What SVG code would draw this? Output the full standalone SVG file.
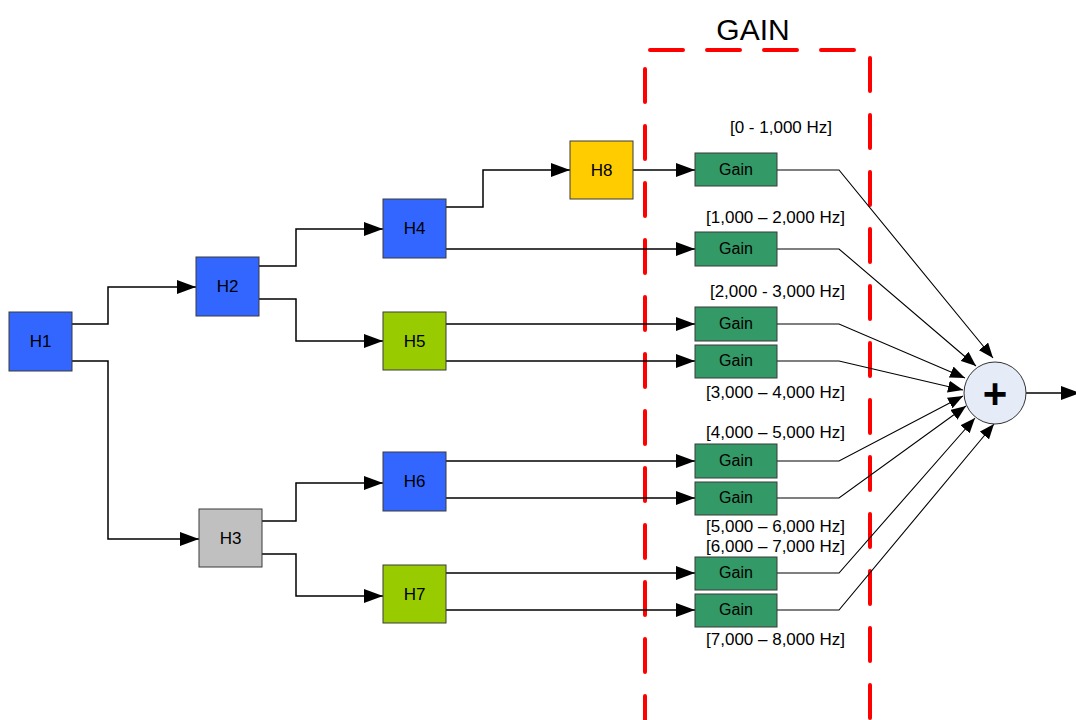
<svg xmlns="http://www.w3.org/2000/svg" width="1076" height="720" viewBox="0 0 1076 720">
  <style>
    .lbl { font-family: "Liberation Sans", Arial, sans-serif; fill: #000; }
    .box { stroke: #3a3a3a; stroke-width: 1; }
    .blue { fill: #3366FF; }
    .lime { fill: #99CC00; }
    .gold { fill: #FFCC00; }
    .grey { fill: #C0C0C0; }
    .gain { fill: #339966; }
    .wire { fill: none; stroke: #000; stroke-width: 1.5; }
    .thin { fill: none; stroke: #000; stroke-width: 1.1; }
    .dash { fill: none; stroke: #FF0000; stroke-width: 4; stroke-linecap: round; stroke-dasharray: 33 24; }
  </style>
  <defs>
    <marker id="arrow" markerUnits="userSpaceOnUse" markerWidth="20" markerHeight="14" refX="19" refY="7" orient="auto">
      <path d="M0,0 L19,7 L0,14 Z" fill="#000"/>
    </marker>
    <marker id="arrowSm" markerUnits="userSpaceOnUse" markerWidth="16" markerHeight="12" refX="15" refY="6" orient="auto">
      <path d="M0,0 L15,6 L0,12 Z" fill="#000"/>
    </marker>
  </defs>

  <rect width="1076" height="720" fill="#fff"/>

  <!-- GAIN stage boundary -->
  <g id="gain-region">
    <line class="dash" x1="650" y1="50" x2="860" y2="50"/>
    <line class="dash" x1="645" y1="69" x2="645" y2="720"/>
    <line class="dash" x1="870" y1="58" x2="870" y2="720"/>
    <line class="dash" x1="650" y1="722.5" x2="860" y2="722.5"/>
    <text class="lbl" x="753" y="40" font-size="30" text-anchor="middle">GAIN</text>
  </g>

  <!-- connectors -->
  <g id="connectors">
    <polyline class="wire" points="72,324 108,324 108,287 196,287" marker-end="url(#arrow)"/>
    <polyline class="wire" points="72,361 108,361 108,539 199,539" marker-end="url(#arrow)"/>
    <polyline class="wire" points="259,266 296,266 296,229 383,229" marker-end="url(#arrow)"/>
    <polyline class="wire" points="259,299 296,299 296,341 383,341" marker-end="url(#arrow)"/>
    <polyline class="wire" points="446,207 483,207 483,170 570,170" marker-end="url(#arrow)"/>
    <polyline class="wire" points="257,521 296,521 296,483 383,483" marker-end="url(#arrow)"/>
    <polyline class="wire" points="257,554 296,554 296,596 383,596" marker-end="url(#arrow)"/>

    <line class="wire" x1="633" y1="170" x2="695" y2="170" marker-end="url(#arrow)"/>
    <line class="wire" x1="446" y1="249" x2="695" y2="249" marker-end="url(#arrow)"/>
    <line class="wire" x1="446" y1="324" x2="695" y2="324" marker-end="url(#arrow)"/>
    <line class="wire" x1="446" y1="361" x2="695" y2="361" marker-end="url(#arrow)"/>
    <line class="wire" x1="446" y1="461" x2="695" y2="461" marker-end="url(#arrow)"/>
    <line class="wire" x1="446" y1="498" x2="695" y2="498" marker-end="url(#arrow)"/>
    <line class="wire" x1="446" y1="573" x2="695" y2="573" marker-end="url(#arrow)"/>
    <line class="wire" x1="446" y1="610" x2="695" y2="610" marker-end="url(#arrow)"/>

    <polyline class="thin" points="777,170 839,170 993,358" marker-end="url(#arrowSm)"/>
    <polyline class="thin" points="777,249 839,249 976,366" marker-end="url(#arrowSm)"/>
    <polyline class="thin" points="777,324 839,324 965,378" marker-end="url(#arrowSm)"/>
    <polyline class="thin" points="777,361 839,361 963,390" marker-end="url(#arrowSm)"/>
    <polyline class="thin" points="777,461 839,461 963,396" marker-end="url(#arrowSm)"/>
    <polyline class="thin" points="777,498 839,498 966,406" marker-end="url(#arrowSm)"/>
    <polyline class="thin" points="777,573 839,573 975,418" marker-end="url(#arrowSm)"/>
    <polyline class="thin" points="777,610 839,610 994,424" marker-end="url(#arrowSm)"/>

    <line class="wire" x1="1026" y1="393" x2="1080" y2="393" marker-end="url(#arrow)"/>
  </g>

  <!-- filter bank nodes -->
  <g id="H1"><rect class="box blue" x="9" y="312" width="63" height="59"/><text class="lbl" x="40.5" y="347" font-size="17" text-anchor="middle">H1</text></g>
  <g id="H2"><rect class="box blue" x="196" y="257" width="63" height="59"/><text class="lbl" x="227.5" y="292" font-size="17" text-anchor="middle">H2</text></g>
  <g id="H3"><rect class="box grey" x="199" y="509" width="63" height="58"/><text class="lbl" x="230.5" y="544" font-size="17" text-anchor="middle">H3</text></g>
  <g id="H4"><rect class="box blue" x="383" y="199" width="63" height="59"/><text class="lbl" x="414.5" y="234" font-size="17" text-anchor="middle">H4</text></g>
  <g id="H5"><rect class="box lime" x="383" y="312" width="63" height="58"/><text class="lbl" x="414.5" y="347" font-size="17" text-anchor="middle">H5</text></g>
  <g id="H6"><rect class="box blue" x="383" y="452" width="63" height="59"/><text class="lbl" x="414.5" y="487" font-size="17" text-anchor="middle">H6</text></g>
  <g id="H7"><rect class="box lime" x="383" y="565" width="63" height="58"/><text class="lbl" x="414.5" y="600" font-size="17" text-anchor="middle">H7</text></g>
  <g id="H8"><rect class="box gold" x="570" y="141" width="63" height="58"/><text class="lbl" x="601.5" y="176" font-size="17" text-anchor="middle">H8</text></g>

  <!-- gain blocks -->
  <g id="gain1"><rect class="box gain" x="695" y="153" width="82" height="33"/><text class="lbl" x="736" y="175" font-size="16" text-anchor="middle">Gain</text></g>
  <g id="gain2"><rect class="box gain" x="695" y="232" width="82" height="34"/><text class="lbl" x="736" y="254" font-size="16" text-anchor="middle">Gain</text></g>
  <g id="gain3"><rect class="box gain" x="695" y="307" width="82" height="34"/><text class="lbl" x="736" y="329" font-size="16" text-anchor="middle">Gain</text></g>
  <g id="gain4"><rect class="box gain" x="695" y="345" width="82" height="33"/><text class="lbl" x="736" y="366" font-size="16" text-anchor="middle">Gain</text></g>
  <g id="gain5"><rect class="box gain" x="695" y="444" width="82" height="34"/><text class="lbl" x="736" y="466" font-size="16" text-anchor="middle">Gain</text></g>
  <g id="gain6"><rect class="box gain" x="695" y="482" width="82" height="33"/><text class="lbl" x="736" y="503" font-size="16" text-anchor="middle">Gain</text></g>
  <g id="gain7"><rect class="box gain" x="695" y="557" width="82" height="33"/><text class="lbl" x="736" y="578" font-size="16" text-anchor="middle">Gain</text></g>
  <g id="gain8"><rect class="box gain" x="695" y="594" width="82" height="33"/><text class="lbl" x="736" y="615" font-size="16" text-anchor="middle">Gain</text></g>

  <!-- band labels -->
  <g id="bands" class="lbl" font-size="17" text-anchor="middle">
    <text class="lbl" x="781" y="133">[0 - 1,000 Hz]</text>
    <text class="lbl" x="775.5" y="223">[1,000 – 2,000 Hz]</text>
    <text class="lbl" x="777.5" y="297">[2,000 - 3,000 Hz]</text>
    <text class="lbl" x="775.5" y="398">[3,000 – 4,000 Hz]</text>
    <text class="lbl" x="775.5" y="438">[4,000 – 5,000 Hz]</text>
    <text class="lbl" x="775.5" y="532">[5,000 – 6,000 Hz]</text>
    <text class="lbl" x="775.5" y="552">[6,000 – 7,000 Hz]</text>
    <text class="lbl" x="775.5" y="645">[7,000 – 8,000 Hz]</text>
  </g>

  <!-- summing junction -->
  <g id="sum">
    <circle cx="995" cy="393" r="31" fill="#E6ECF7" stroke="#333" stroke-width="1"/>
    <text class="lbl" x="995" y="408" font-size="42" font-weight="bold" text-anchor="middle">+</text>
  </g>
</svg>
